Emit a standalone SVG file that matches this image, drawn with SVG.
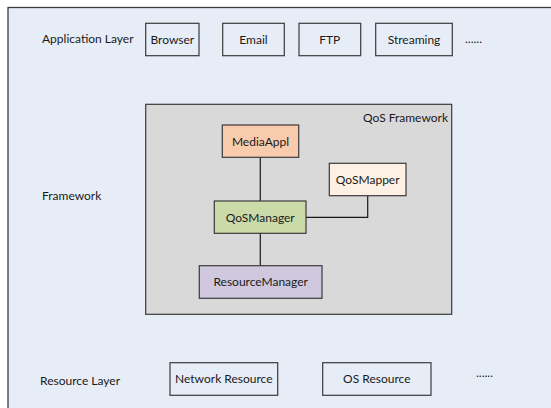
<svg xmlns="http://www.w3.org/2000/svg" width="551" height="408" viewBox="0 0 551 408">
  <style>
    text { font-family: Lato, "Open Sans", "Liberation Sans", sans-serif; font-size: 12px; fill: #1a1a1a; }
    .mid { text-anchor: middle; }
    .box { fill: #E7EDF7; stroke: #3a3a3a; stroke-width: 1.2; }
    .node { stroke: #3a3a3a; stroke-width: 1.2; }
    .link { fill: none; stroke: #1a1a1a; stroke-width: 1.2; }
  </style>

  <!-- page background -->
  <rect x="0" y="0" width="551" height="408" fill="#ffffff"/>
  <rect x="8" y="7.5" width="560" height="420" fill="#E7EDF7" stroke="#3a3a3a" stroke-width="1.3"/>

  <!-- layer labels -->
  <text x="42" y="42.5">Application Layer</text>
  <text x="42" y="200">Framework</text>
  <text x="40" y="385">Resource Layer</text>

  <!-- application layer -->
  <g id="browser"><rect class="box" x="145.7" y="23.3" width="53.3" height="32.4"/><text class="mid" x="172.3" y="43.5">Browser</text></g>
  <g id="email"><rect class="box" x="222.7" y="23.3" width="61.6" height="32.4"/><text class="mid" x="253.5" y="43.5">Email</text></g>
  <g id="ftp"><rect class="box" x="299" y="23.3" width="61.7" height="32.4"/><text class="mid" x="329.8" y="43.5">FTP</text></g>
  <g id="streaming"><rect class="box" x="375.7" y="23.3" width="76.6" height="32.4"/><text class="mid" x="414" y="43.5">Streaming</text></g>
  <text id="app-more" x="465" y="42.5" font-size="9">......</text>

  <!-- QoS framework container -->
  <g id="qos-framework">
    <rect x="145.7" y="104.3" width="306" height="210" fill="#D9D9D9" stroke="#3a3a3a" stroke-width="1.2"/>
    <text x="448" y="121.7" text-anchor="end">QoS Framework</text>
  </g>

  <!-- connectors -->
  <g id="connectors">
    <line class="link" x1="260.3" y1="157.3" x2="260.3" y2="201"/>
    <line class="link" x1="260.3" y1="233.3" x2="260.3" y2="265.7"/>
    <polyline class="link" points="306,217.3 367.7,217.3 367.7,195.7"/>
  </g>

  <g id="media-appl"><rect class="node" x="222.3" y="125" width="76.4" height="32.3" fill="#F8CBAD"/><text class="mid" x="260.5" y="145.5">MediaAppl</text></g>
  <g id="qos-mapper"><rect class="node" x="329.3" y="163.3" width="76.7" height="32.4" fill="#FDF0E4"/><text class="mid" x="367.7" y="184">QoSMapper</text></g>
  <g id="qos-manager"><rect class="node" x="214.3" y="201" width="91.7" height="32.3" fill="#CADBA9"/><text class="mid" x="260.2" y="221.7">QoSManager</text></g>
  <g id="resource-manager"><rect class="node" x="199.3" y="265.7" width="122.7" height="32.6" fill="#D0C8DE"/><text class="mid" x="260.7" y="285.5">ResourceManager</text></g>

  <!-- resource layer -->
  <g id="network-resource"><rect class="box" x="170" y="362.7" width="107.7" height="32.6"/><text class="mid" x="223.8" y="382.5">Network Resource</text></g>
  <g id="os-resource"><rect class="box" x="322.7" y="362.7" width="108.3" height="32.6"/><text class="mid" x="376.8" y="382.5">OS Resource</text></g>
  <text id="res-more" x="476" y="377.3" font-size="9">......</text>
</svg>
